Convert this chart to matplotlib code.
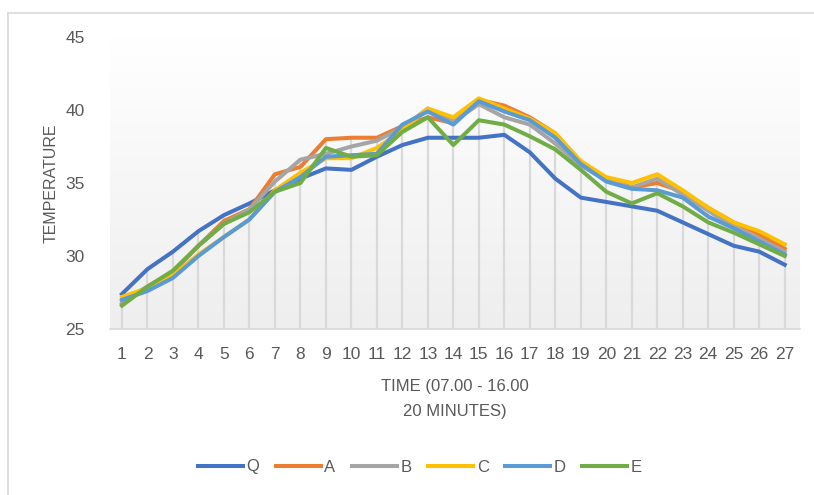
import numpy as np
import matplotlib
matplotlib.use("Agg")
import matplotlib.pyplot as plt
from matplotlib.lines import Line2D
from matplotlib.colors import LinearSegmentedColormap

plt.rcParams['font.family'] = ['Liberation Sans', 'DejaVu Sans']

# data
steps = list(range(1, 28))
Q = [27.4, 29.1, 30.3, 31.7, 32.8, 33.6, 34.5, 35.3, 36.0, 35.9, 36.8, 37.6, 38.1, 38.1,
     38.1, 38.3, 37.1, 35.3, 34.0, 33.7, 33.4, 33.1, 32.3, 31.5, 30.7, 30.3, 29.4]
A = [26.7, 27.9, 28.9, 30.7, 32.4, 33.2, 35.6, 36.1, 38.0, 38.1, 38.1, 38.9, 39.5, 39.1,
     40.7, 40.3, 39.5, 38.4, 36.4, 35.3, 34.7, 35.0, 34.4, 33.3, 32.3, 31.5, 30.5]
B = [26.9, 27.9, 28.9, 30.7, 32.2, 33.2, 35.1, 36.6, 37.0, 37.5, 37.9, 38.8, 40.1, 39.2,
     40.4, 39.5, 39.0, 37.7, 36.2, 35.2, 34.7, 35.3, 34.2, 33.1, 32.0, 31.2, 30.3]
C = [27.2, 27.8, 28.7, 30.1, 31.3, 32.5, 34.5, 35.7, 36.7, 36.7, 37.4, 38.6, 40.1, 39.5,
     40.8, 40.1, 39.4, 38.4, 36.5, 35.4, 35.0, 35.6, 34.5, 33.3, 32.3, 31.7, 30.8]
D = [27.0, 27.6, 28.5, 30.0, 31.3, 32.5, 34.4, 35.4, 36.8, 36.9, 37.0, 39.0, 39.9, 39.0,
     40.6, 39.9, 39.3, 38.1, 36.3, 35.1, 34.6, 34.5, 34.0, 32.7, 31.9, 31.0, 30.1]
E = [26.6, 27.9, 29.0, 30.7, 32.2, 33.0, 34.4, 35.0, 37.4, 36.8, 36.9, 38.5, 39.5, 37.6,
     39.3, 39.0, 38.2, 37.3, 35.9, 34.4, 33.6, 34.3, 33.4, 32.3, 31.6, 30.8, 30.0]

names = ['Q', 'A', 'B', 'C', 'D', 'E']
series = [Q, A, B, C, D, E]
colors = ['#4472C4', '#ED7D31', '#A5A5A5', '#FFC000', '#5B9BD5', '#70AD47']
text_col = '#595959'

fig = plt.figure(figsize=(8.14, 4.95), dpi=100)
W, H = 814, 495
ax = fig.add_axes([110 / W, 1 - 329 / H, 690 / W, 292 / H])

# light grey gradient behind the plot
grad = np.linspace(1, 0, 256).reshape(-1, 1)
cmap = LinearSegmentedColormap.from_list('g', ['#eeeeee', '#ffffff'])
ax.imshow(grad, extent=[0, 1, 0, 1], transform=ax.transAxes, aspect='auto',
          cmap=cmap, zorder=0)

# drop lines from the highest series down to the axis
tops = np.max(np.array(series), axis=0)
ax.vlines(steps, 25, tops, color='#d9d9d9', lw=1.6, zorder=1)

for name, vals, col in zip(names, series, colors):
    ax.plot(steps, vals, color=col, lw=2.9, label=name, zorder=3, solid_joinstyle='round')

ax.set_xlim(0.53, 27.6)
ax.set_ylim(25, 45)
ax.set_yticks([25, 30, 35, 40, 45])
ax.set_xticks(steps)
ax.tick_params(length=0, labelsize=12.5, colors=text_col)
ax.tick_params(axis='y', pad=18)
ax.tick_params(axis='x', pad=13)
for s in ['top', 'right', 'left']:
    ax.spines[s].set_visible(False)
ax.spines['bottom'].set_color('#d9d9d9')
ax.spines['bottom'].set_linewidth(1.2)

ax.set_ylabel('TEMPERATURE', fontsize=11.5, color=text_col, labelpad=5)
ax.set_xlabel('TIME (07.00 - 16.00\n20 MINUTES)', fontsize=12, color=text_col,
              labelpad=12, linespacing=1.85)

ax.legend(loc='center', bbox_to_anchor=(420 / W, 1 - 467 / H), bbox_transform=fig.transFigure,
          ncol=6, frameon=False, fontsize=12, labelcolor=text_col, handlelength=2.7,
          handletextpad=0.2, columnspacing=1.0)

# outer chart border
fig.add_artist(Line2D([8 / W, 8 / W], [0, 1 - 13 / H], transform=fig.transFigure,
                      color='#d9d9d9', lw=1.2))
fig.add_artist(Line2D([8 / W, 1], [1 - 13 / H, 1 - 13 / H], transform=fig.transFigure,
                      color='#d9d9d9', lw=1.2))

fig.savefig('out.png', dpi=100)
